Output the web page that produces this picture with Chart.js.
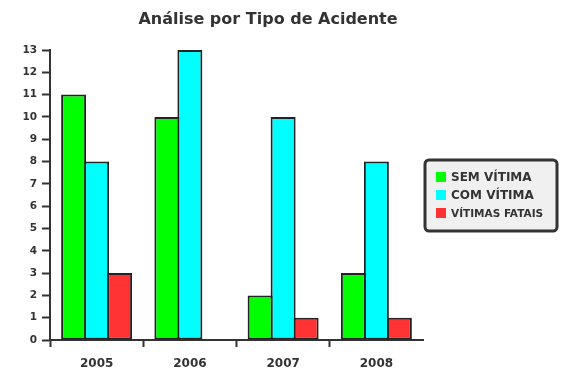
<!DOCTYPE html>
<html>
<head>
<meta charset="utf-8">
<script src="https://cdn.jsdelivr.net/npm/chart.js@4/dist/chart.umd.min.js"></script>
<style>
  html, body { margin: 0; padding: 0; background: #fff; }
  #grafico { display: block; }
</style>
</head>
<body>
<canvas id="grafico" width="570" height="387"></canvas>
<script>
const titulo = "Análise por Tipo de Acidente";
const anos = ["2005", "2006", "2007", "2008"];
const semVitima = [11, 10, 2, 3];
const comVitima = [8, 13, 10, 8];
const vitimasFatais = [3, 0, 1, 1];
const rotulos = ["SEM VÍTIMA", "COM VÍTIMA", "VÍTIMAS FATAIS"];
const cores = ["#00ff00", "#00ffff", "#ff3333"];

const fonte = "'DejaVu Sans', Verdana, sans-serif";

// titulo e legenda desenhados à mão (posição fixa como no original)
const extrasPlugin = {
  id: "extras",
  afterDraw(chart) {
    const ctx = chart.ctx;
    ctx.save();
    ctx.fillStyle = "#333";
    ctx.font = "bold 16px " + fonte;
    ctx.textAlign = "center";
    ctx.textBaseline = "middle";
    ctx.fillText(titulo, 268, 20);

    const x = 425, y = 160, w = 132, h = 71;
    ctx.beginPath();
    ctx.roundRect(x, y, w, h, 4);
    ctx.fillStyle = "#f0f0f0";
    ctx.fill();
    ctx.lineWidth = 3;
    ctx.strokeStyle = "#333";
    ctx.stroke();
    const tamanhos = [12, 12, 10.5];
    ctx.textAlign = "left";
    chart.data.datasets.forEach((ds, i) => {
      const cy = 177 + i * 18;
      ctx.fillStyle = ds.backgroundColor;
      ctx.fillRect(436, cy - 5, 10, 10);
      ctx.fillStyle = "#333";
      ctx.font = "bold " + tamanhos[i] + "px " + fonte;
      ctx.fillText(ds.label, 451, cy + 1);
    });
    ctx.restore();
  }
};

new Chart(document.getElementById("grafico"), {
  type: "bar",
  data: {
    labels: anos,
    datasets: [
      { label: rotulos[0], data: semVitima, backgroundColor: cores[0] },
      { label: rotulos[1], data: comVitima, backgroundColor: cores[1] },
      { label: rotulos[2], data: vitimasFatais, backgroundColor: cores[2] }
    ]
  },
  options: {
    responsive: false,
    animation: false,
    layout: { padding: { left: 0, right: 147, top: 50, bottom: 12 } },
    datasets: {
      bar: {
        categoryPercentage: 0.74,
        barPercentage: 1.087, // barras se sobrepõem e compartilham a borda
        borderColor: "#222",
        borderWidth: (c) => (c.raw === 0 ? 0 : 2),
        borderSkipped: false
      }
    },
    plugins: {
      legend: { display: false },
      tooltip: { enabled: false },
      title: { display: false }
    },
    scales: {
      x: {
        grid: {
          drawOnChartArea: false,
          tickLength: 7,
          tickWidth: 2,
          tickColor: (c) => (c.type === "tick" && c.index < 4 ? "#333" : "rgba(0,0,0,0)")
        },
        border: { display: true, color: "#333", width: 2 },
        ticks: {
          color: "#333",
          padding: 10,
          font: { family: fonte, size: 12, weight: "bold" }
        },
        afterFit(s) { s.height = 35; }
      },
      y: {
        min: 0,
        max: 13,
        grid: {
          drawOnChartArea: false,
          tickLength: 8,
          tickWidth: 2,
          tickColor: "#333"
        },
        border: { display: true, color: "#333", width: 2 },
        ticks: {
          stepSize: 1,
          color: "#333",
          padding: 5,
          font: { family: fonte, size: 10.5, weight: "bold" }
        },
        afterFit(s) { s.width = 50; }
      }
    }
  },
  plugins: [extrasPlugin]
});
</script>
</body>
</html>
